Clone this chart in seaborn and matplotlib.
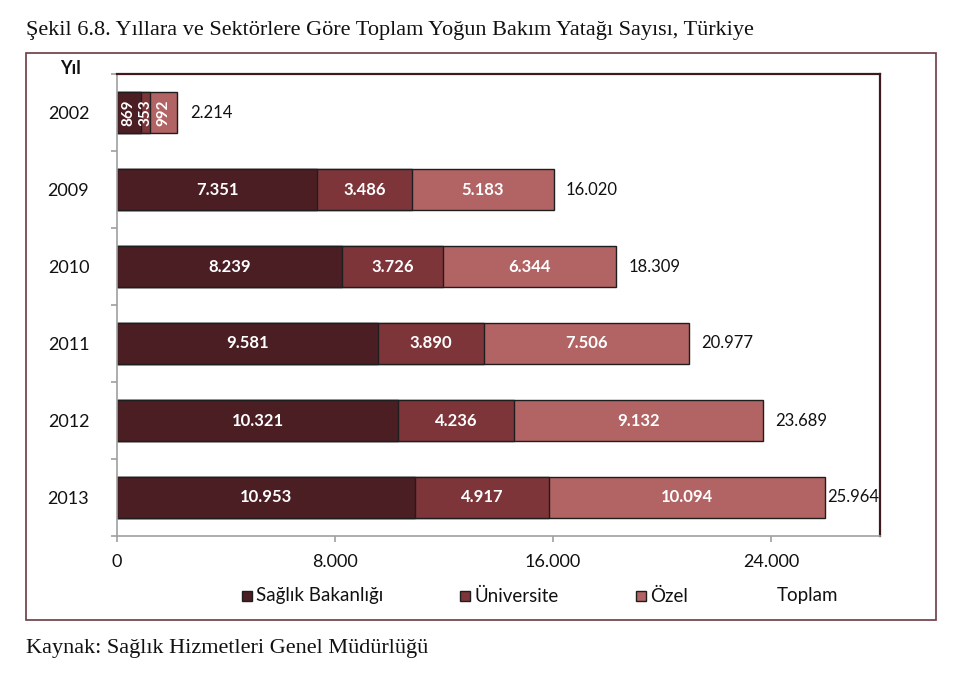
import matplotlib
matplotlib.use("Agg")
import matplotlib.pyplot as plt
from matplotlib.patches import Rectangle
from matplotlib.ticker import FixedLocator
import seaborn as sns
import pandas as pd

# ---- data ----
years = ["2002", "2009", "2010", "2011", "2012", "2013"]
saglik = [869, 7351, 8239, 9581, 10321, 10953]
univ = [353, 3486, 3726, 3890, 4236, 4917]
ozel = [992, 5183, 6344, 7506, 9132, 10094]
toplam = [2214, 16020, 18309, 20977, 23689, 25964]
series_names = ["Sağlık Bakanlığı", "Üniversite", "Özel", "Toplam"]
x_ticks = [0, 8000, 16000, 24000]

colors = ["#4b1e24", "#7d353a", "#b26363"]
edge = "#1e1e1e"

sns.set_theme(style="white")
plt.rcParams["font.family"] = ["Lato", "DejaVu Sans"]

def fmt(v):
    return f"{v:,}".replace(",", ".")

df = pd.DataFrame({"Yıl": years, "s": saglik, "u": univ, "o": ozel, "t": toplam})
df["c1"] = df["s"]
df["c2"] = df["s"] + df["u"]
df["c3"] = df["s"] + df["u"] + df["o"]

fig = plt.figure(figsize=(9.72, 6.78), dpi=100)
ax = fig.add_axes([117 / 972, 1 - 536 / 678, (880 - 117) / 972, (536 - 74) / 678])

# stacked bars drawn as cumulative layers (largest first)
for col, c in zip(["c3", "c2", "c1"], colors[::-1]):
    sns.barplot(data=df, x=col, y="Yıl", orient="h", color=c, width=0.52,
                edgecolor=edge, linewidth=1.0, saturation=1, ax=ax)

ax.set_xlim(0, 28000)
ax.set_ylim(5.5, -0.5)
ax.set_xlabel("")
ax.set_ylabel("")

# segment labels
for i in range(len(years)):
    starts = [0, saglik[i], saglik[i] + univ[i]]
    vals = [saglik[i], univ[i], ozel[i]]
    for st, v in zip(starts, vals):
        if i == 0:
            ax.text(st + v / 2, i, fmt(v), ha="center", va="center", rotation=90,
                    color="white", fontsize=11, fontweight="bold")
        else:
            ax.text(st + v / 2, i, fmt(v), ha="center", va="center",
                    color="white", fontsize=12, fontweight="bold")

# total labels
fig.canvas.draw()
renderer = fig.canvas.get_renderer()
ax_right = ax.get_window_extent().x1
for i, t in enumerate(toplam):
    txt = ax.annotate(fmt(t), xy=(t, i), xytext=(9, 0), textcoords="offset points",
                      ha="left", va="center", fontsize=12, color="#111111")
    bb = txt.get_window_extent(renderer)
    if bb.x1 > ax_right:
        txt.set_position((2, 0))

# axes styling
for s in ["top", "right"]:
    ax.spines[s].set_color("#3c1a1e")
    ax.spines[s].set_linewidth(1.6)
for s in ["left", "bottom"]:
    ax.spines[s].set_color("#a0a0a0")
    ax.spines[s].set_linewidth(1.2)

ax.xaxis.set_major_locator(FixedLocator(x_ticks))
ax.set_xticklabels([fmt(v) for v in x_ticks])
ax.tick_params(axis="x", which="major", bottom=True, direction="out", length=4,
               width=1.2, color="#a0a0a0", labelsize=13, pad=9, labelcolor="#111111")
ax.tick_params(axis="y", which="major", left=False, labelsize=13, pad=14,
               labelcolor="#111111")
ax.yaxis.set_minor_locator(FixedLocator([k - 0.5 for k in range(len(years) + 1)]))
ax.tick_params(axis="y", which="minor", left=True, direction="out", length=4.5,
               width=1.2, color="#a0a0a0")

# "Yıl" header
fig.text(70 / 972, 1 - 68 / 678, "Yıl", ha="center", va="center",
         fontsize=13, fontweight="bold", color="#111111")

# outer frame
fig.patches.append(Rectangle((26 / 972, 1 - 620 / 678), (936 - 26) / 972, (620 - 52.5) / 678,
                             transform=fig.transFigure, fill=False,
                             edgecolor="#6a3a40", linewidth=1.2))

# legend (manual)
leg_y = 1 - 596 / 678
sq_x = [242, 460, 636]
txt_x = [256, 474, 650, 777]
sq = 10
for k in range(3):
    fig.patches.append(Rectangle((sq_x[k] / 972, leg_y - (sq / 2) / 678), sq / 972, sq / 678,
                                 transform=fig.transFigure, facecolor=colors[k],
                                 edgecolor=edge, linewidth=1.0))
for k in range(4):
    fig.text(txt_x[k] / 972, leg_y, series_names[k], ha="left", va="center",
             fontsize=13.5, color="#111111")

# title and source
fig.text(26 / 972, 1 - 30 / 678,
         "Şekil 6.8. Yıllara ve Sektörlere Göre Toplam Yoğun Bakım Yatağı Sayısı, Türkiye",
         ha="left", va="center", fontsize=16, family=["Liberation Serif", "DejaVu Serif"],
         color="#111111")
fig.text(26 / 972, 1 - 648 / 678, "Kaynak: Sağlık Hizmetleri Genel Müdürlüğü",
         ha="left", va="center", fontsize=16, family=["Liberation Serif", "DejaVu Serif"],
         color="#111111")

fig.savefig("out.png", dpi=100)
